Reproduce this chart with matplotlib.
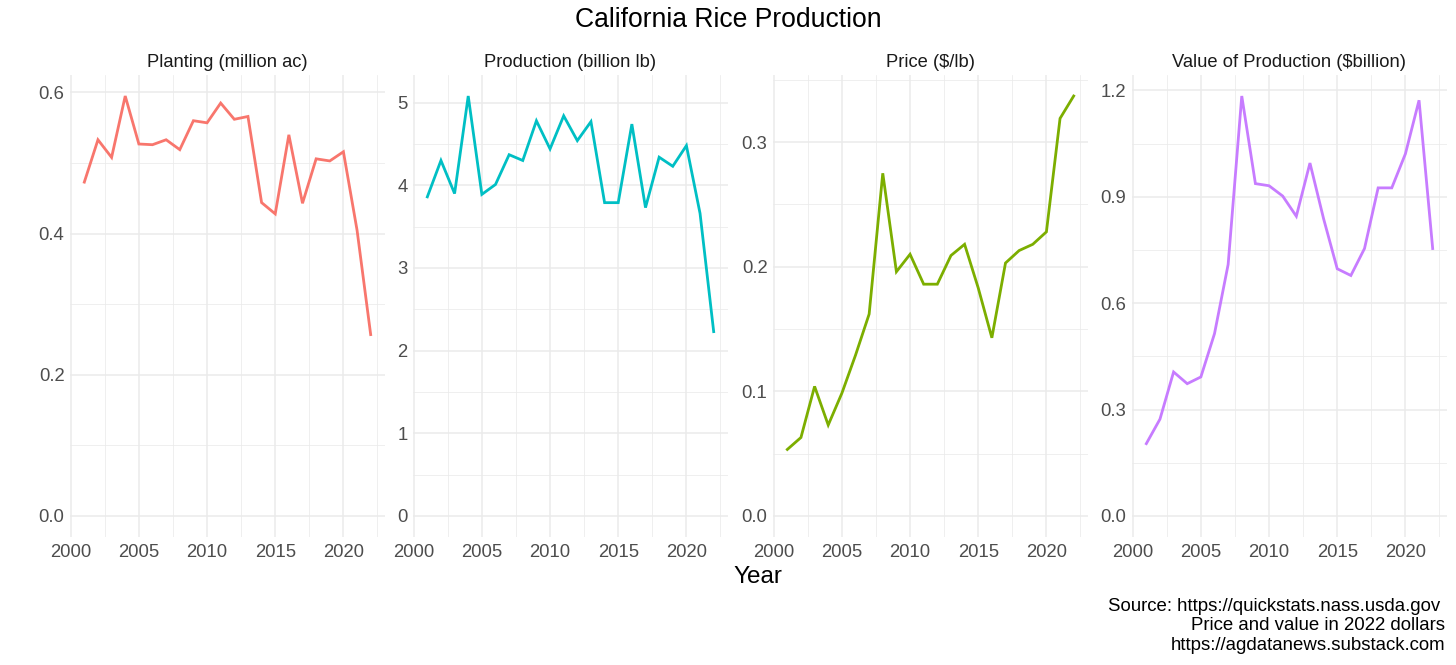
import matplotlib
matplotlib.use("Agg")
import matplotlib.pyplot as plt
import numpy as np

plt.rcParams['font.family'] = ['Liberation Sans', 'DejaVu Sans']

years = list(range(2001, 2023))
planting = [0.473, 0.533, 0.508, 0.595, 0.527, 0.526, 0.533, 0.519, 0.560, 0.557, 0.585,
            0.562, 0.566, 0.444, 0.428, 0.540, 0.443, 0.506, 0.503, 0.516, 0.405, 0.257]
production = [3.86, 4.30, 3.90, 5.08, 3.89, 4.01, 4.37, 4.30, 4.78, 4.44, 4.84,
              4.54, 4.77, 3.79, 3.79, 4.74, 3.73, 4.34, 4.23, 4.48, 3.66, 2.23]
price = [0.0534, 0.063, 0.104, 0.073, 0.0985, 0.129, 0.162, 0.275, 0.196, 0.210, 0.186,
         0.186, 0.209, 0.218, 0.183, 0.143, 0.203, 0.213, 0.218, 0.228, 0.319, 0.337]
value = [0.204, 0.273, 0.406, 0.373, 0.392, 0.514, 0.709, 1.184, 0.937, 0.931, 0.902,
         0.845, 0.995, 0.838, 0.697, 0.678, 0.754, 0.925, 0.925, 1.021, 1.172, 0.754]

titles = ["Planting (million ac)", "Production (billion lb)", "Price ($/lb)", "Value of Production ($billion)"]
colors = ["#F8766D", "#00BFC4", "#7CAE00", "#C77CFF"]
series = [planting, production, price, value]
yticks = [[0.0, 0.2, 0.4, 0.6], [0, 1, 2, 3, 4, 5], [0.0, 0.1, 0.2, 0.3], [0.0, 0.3, 0.6, 0.9, 1.2]]
ylabels = [["0.0", "0.2", "0.4", "0.6"], ["0", "1", "2", "3", "4", "5"],
           ["0.0", "0.1", "0.2", "0.3"], ["0.0", "0.3", "0.6", "0.9", "1.2"]]
xticks = [2000, 2005, 2010, 2015, 2020]

W, H = 1456, 665
fig = plt.figure(figsize=(W / 100, H / 100), dpi=100)
fig.patch.set_facecolor("white")

lefts = [70, 413, 773, 1132]
pw = 315
top, bottom = 75, 537

grid_c = "#EBEBEB"
for i in range(4):
    ax = fig.add_axes([lefts[i] / W, 1 - bottom / H, pw / W, (bottom - top) / H])
    y = series[i]
    ax.plot(years, y, color=colors[i], lw=2.0, solid_joinstyle="miter", zorder=3)
    ax.set_xticks(xticks)
    ax.set_xticklabels([str(t) for t in xticks])
    ax.set_xticks([2002.5, 2007.5, 2012.5, 2017.5, 2022.5], minor=True)
    yt = yticks[i]
    ax.set_yticks(yt)
    ax.set_yticklabels(ylabels[i])
    step = yt[1] - yt[0]
    ax.set_yticks([v + step / 2 for v in yt], minor=True)
    span = 2022 - 2001
    ax.set_xlim(2001 - 0.05 * span, 2022 + 0.05 * span)
    ymax = max(y)
    ax.set_ylim(-0.05 * ymax, ymax * 1.05)
    ax.grid(which="major", color=grid_c, lw=1.1)
    ax.grid(which="minor", color=grid_c, lw=0.55)
    ax.set_axisbelow(True)
    for s in ax.spines.values():
        s.set_visible(False)
    ax.tick_params(which="both", length=0, labelsize=13.3, labelcolor="#4D4D4D", pad=4)
    ax.tick_params(axis="x", pad=5)
    ax.set_title(titles[i], fontsize=13.2, color="#1A1A1A", pad=6)

fig.text(728 / W, 1 - 20 / H, "California Rice Production", ha="center", va="center", fontsize=19.1, color="black")
fig.text(758 / W, 1 - 577 / H, "Year", ha="center", va="center", fontsize=17.5, color="black")
fig.text(1445 / W, 1 - 626 / H,
         "Source: https://quickstats.nass.usda.gov \nPrice and value in 2022 dollars\nhttps://agdatanews.substack.com",
         ha="right", va="center", fontsize=13.4, color="black", linespacing=1.17)

fig.savefig("out.png", dpi=100)
